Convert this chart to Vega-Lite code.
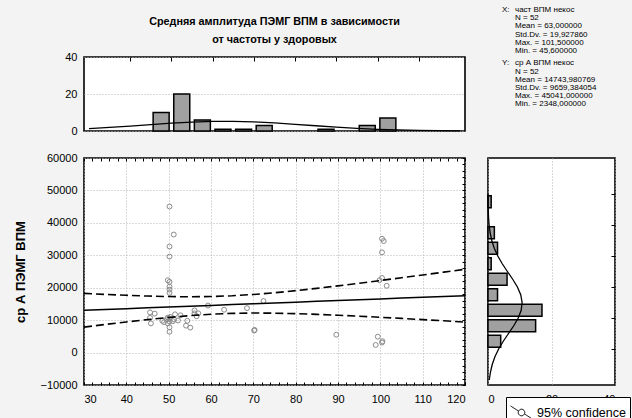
{
"$schema":"https://vega.github.io/schema/vega-lite/v6.json",
"autosize":{"type":"none"},
"padding":{"left":84,"top":57,"right":548,"bottom":361},
"background":"#f3f3f3",
"bounds":"flush",
"columns":2,
"spacing":{"row":27,"column":23},
"config":{
  "font":"Liberation Sans",
  "view":{"stroke":"black","strokeWidth":1.6,"fill":"white"},
  "axis":{"labelFont":"Liberation Sans","labelFontSize":11,"labelColor":"black","titleFont":"Liberation Sans","titleColor":"black","domain":false,"ticks":false,"grid":false,"gridColor":"#b5b5b5","gridDash":[1,2],"gridWidth":1,"tickColor":"black","tickWidth":1,"labelOverlap":false},
  "legend":{"labelFont":"Liberation Sans"}
},
"datasets":{
  "pts":[
    {"x":45.6,"y":12400},{"x":45.6,"y":10700},{"x":45.8,"y":9000},{"x":46.7,"y":12000},{"x":48.9,"y":9400},{"x":49.8,"y":10800},{"x":49.8,"y":9000},{"x":49.8,"y":22300},{"x":48.5,"y":9800},{"x":49.6,"y":10300},
    {"x":50.2,"y":45041},{"x":51.2,"y":36400},{"x":50.2,"y":32700},{"x":50.2,"y":29600},{"x":50.2,"y":21800},{"x":50.2,"y":20300},{"x":50.2,"y":19400},{"x":50.2,"y":18400},{"x":50.2,"y":7800},{"x":50.2,"y":6400},
    {"x":51.0,"y":9700},{"x":51.3,"y":10200},{"x":52.2,"y":9900},{"x":52.8,"y":11500},{"x":54.4,"y":9800},{"x":54.1,"y":8300},{"x":50.2,"y":10500},{"x":50.4,"y":11000},{"x":50.2,"y":9600},{"x":51.5,"y":11800},
    {"x":55.1,"y":7700},{"x":56.1,"y":13000},{"x":56.1,"y":12100},{"x":56.6,"y":11200},{"x":57.0,"y":12100},{"x":59.3,"y":14500},
    {"x":63.1,"y":13200},{"x":68.5,"y":13700},{"x":70.2,"y":6800},{"x":72.4,"y":15900},{"x":70.3,"y":7000},{"x":89.6,"y":5500},
    {"x":99.4,"y":4900},{"x":98.9,"y":2348},{"x":99.8,"y":22300},
    {"x":100.4,"y":3100},{"x":100.5,"y":3500},{"x":100.4,"y":35100},{"x":100.8,"y":34400},{"x":100.4,"y":30900},{"x":100.4,"y":23000},{"x":101.5,"y":20600}
  ],
  "band":[
    {"x":30,"fit":13050,"lo":7850,"hi":18250},{"x":35,"fit":13300,"lo":8662,"hi":17938},{"x":40,"fit":13550,"lo":9441,"hi":17659},{"x":45,"fit":13800,"lo":10171,"hi":17429},
    {"x":50,"fit":14050,"lo":10832,"hi":17268},{"x":55,"fit":14300,"lo":11393,"hi":17207},{"x":60,"fit":14550,"lo":11820,"hi":17280},{"x":65,"fit":14800,"lo":12087,"hi":17513},
    {"x":70,"fit":15050,"lo":12190,"hi":17910},{"x":75,"fit":15300,"lo":12154,"hi":18446},{"x":80,"fit":15550,"lo":12010,"hi":19090},{"x":85,"fit":15800,"lo":11792,"hi":19808},
    {"x":90,"fit":16050,"lo":11521,"hi":20579},{"x":95,"fit":16300,"lo":11215,"hi":21385},{"x":100,"fit":16550,"lo":10883,"hi":22217},{"x":105,"fit":16800,"lo":10533,"hi":23067},
    {"x":110,"fit":17050,"lo":10169,"hi":23931},{"x":115,"fit":17300,"lo":9795,"hi":24805},{"x":120,"fit":17550,"lo":9413,"hi":25687}
  ],
  "xh":[{"mid":47.5,"count":10},{"mid":52.5,"count":20},{"mid":57.5,"count":6},{"mid":62.5,"count":1},{"mid":67.5,"count":1},{"mid":72.5,"count":3},{"mid":87.5,"count":1},{"mid":97.5,"count":3},{"mid":102.5,"count":7}],
  "yh":[{"mid":2500,"count":4},{"mid":7500,"count":15},{"mid":12500,"count":17},{"mid":17500,"count":3},{"mid":22500,"count":6},{"mid":27500,"count":1},{"mid":32500,"count":3},{"mid":37500,"count":2},{"mid":47500,"count":1}],
  "xcurve":[{"mid":30,"count":1.32},{"mid":35,"count":1.94},{"mid":40,"count":2.67},{"mid":45,"count":3.46},{"mid":50,"count":4.21},{"mid":55,"count":4.8},{"mid":60,"count":5.15},{"mid":65,"count":5.18},{"mid":70,"count":4.89},{"mid":75,"count":4.34},{"mid":80,"count":3.62},{"mid":85,"count":2.83},{"mid":90,"count":2.08},{"mid":95,"count":1.43},{"mid":100,"count":0.93},{"mid":105,"count":0.57},{"mid":110,"count":0.32},{"mid":115,"count":0.17},{"mid":120,"count":0.09}],
  "ycurve":[{"mid":-10000,"count":0.4},{"mid":-7500,"count":0.76},{"mid":-5000,"count":1.33},{"mid":-2500,"count":2.18},{"mid":0,"count":3.35},{"mid":2500,"count":4.81},{"mid":5000,"count":6.46},{"mid":7500,"count":8.11},{"mid":10000,"count":9.52},{"mid":12500,"count":10.45},{"mid":15000,"count":10.74},{"mid":17500,"count":10.31},{"mid":20000,"count":9.26},{"mid":22500,"count":7.78},{"mid":25000,"count":6.11},{"mid":27500,"count":4.49},{"mid":30000,"count":3.09},{"mid":32500,"count":1.98},{"mid":35000,"count":1.19},{"mid":37500,"count":0.67},{"mid":40000,"count":0.35},{"mid":42500,"count":0.17},{"mid":45000,"count":0.08},{"mid":47500,"count":0.03},{"mid":50000,"count":0.01}],
  "stats":[
    {"line":0,"indent":0,"text":"X:"},{"line":0,"indent":1,"text":"част ВПМ некос"},{"line":1,"indent":1,"text":"N = 52"},{"line":2,"indent":1,"text":"Mean = 63,000000"},{"line":3,"indent":1,"text":"Std.Dv. = 19,927860"},{"line":4,"indent":1,"text":"Max. = 101,500000"},{"line":5,"indent":1,"text":"Min. = 45,600000"},
    {"line":6.5,"indent":0,"text":"Y:"},{"line":6.5,"indent":1,"text":"ср А ВПМ некос"},{"line":7.5,"indent":1,"text":"N = 52"},{"line":8.5,"indent":1,"text":"Mean = 14743,980769"},{"line":9.5,"indent":1,"text":"Std.Dv. = 9659,384054"},{"line":10.5,"indent":1,"text":"Max. = 45041,000000"},{"line":11.5,"indent":1,"text":"Min. = 2348,000000"}
  ]
},
"concat":[
  {
    "width":381,"height":74,
    "title":{"text":["Средняя амплитуда ПЭМГ ВПМ в зависимости","от частоты у здоровых"],"font":"Liberation Sans","fontSize":10.8,"fontWeight":"bold","color":"black","anchor":"middle","offset":6,"lineHeight":18},
    "encoding":{
      "x":{"field":"mid","type":"quantitative","scale":{"domain":[30,120],"nice":false,"zero":false},"axis":{"orient":"top","values":[40,50,60,70,80,90,100,110],"labels":false,"ticks":true,"tickSize":-4,"grid":false,"title":null}},
      "y":{"field":"count","type":"quantitative","scale":{"domain":[0,40],"nice":false,"zero":true},"axis":{"orient":"left","values":[0,20,40],"grid":true,"labelPadding":7,"title":null}}
    },
    "layer":[
      {"data":{"name":"xh"},"mark":{"type":"bar","width":16,"fill":"#a0a0a0","stroke":"black","strokeWidth":1.5}},
      {"data":{"name":"xcurve"},"mark":{"type":"line","color":"black","strokeWidth":1.3}}
    ]
  },
  {
    "width":127,"height":74,
    "view":{"stroke":null,"fill":null},
    "data":{"name":"stats"},
    "mark":{"type":"text","align":"left","baseline":"middle","font":"Liberation Sans","fontSize":8,"color":"black"},
    "encoding":{
      "x":{"field":"indent","type":"quantitative","scale":{"domain":[0,1],"range":[14,27]},"axis":null},
      "y":{"field":"line","type":"quantitative","scale":{"domain":[0,11.5],"range":[-47,47.3]},"axis":null},
      "text":{"field":"text"}
    }
  },
  {
    "width":381,"height":227,
    "layer":[
      {"data":{"name":"pts"},"mark":{"type":"point","shape":"circle","filled":false,"stroke":"#8a8a8a","strokeWidth":1,"size":24,"opacity":1},
       "encoding":{
         "x":{"field":"x","type":"quantitative","scale":{"domain":[30,120],"nice":false,"zero":false},
              "axis":{"orient":"bottom","values":[30,32,34,36,38,40,42,44,46,48,50,52,54,56,58,60,62,64,66,68,70,72,74,76,78,80,82,84,86,88,90,92,94,96,98,100,102,104,106,108,110,112,114,116,118,120],
                      "labelExpr":"datum.value % 10 === 0 ? datum.label : ''","grid":true,"gridOpacity":{"condition":{"test":"datum.value % 10 === 0","value":1},"value":0},
                      "ticks":true,"tickSize":-3,"labelPadding":11,"title":null}},
         "y":{"field":"y","type":"quantitative","scale":{"domain":[-10000,60000],"nice":false,"zero":false},
              "axis":{"orient":"left","values":[-10000,0,10000,20000,30000,40000,50000,60000],"format":"d","grid":true,"labelPadding":7,
                      "title":"ср А ПЭМГ ВПМ","titleFontSize":13,"titleFontWeight":"bold","titlePadding":12}}}},
      {"data":{"name":"band"},"mark":{"type":"line","color":"black","strokeWidth":1.5},
       "encoding":{
         "x":{"field":"x","type":"quantitative","axis":{"orient":"top","values":[30,32,34,36,38,40,42,44,46,48,50,52,54,56,58,60,62,64,66,68,70,72,74,76,78,80,82,84,86,88,90,92,94,96,98,100,102,104,106,108,110,112,114,116,118,120],"labels":false,"ticks":true,"tickSize":-3,"grid":false,"title":null}},
         "y":{"field":"fit","type":"quantitative","axis":{"orient":"right","values":[-10000,-8000,-6000,-4000,-2000,0,2000,4000,6000,8000,10000,12000,14000,16000,18000,20000,22000,24000,26000,28000,30000,32000,34000,36000,38000,40000,42000,44000,46000,48000,50000,52000,54000,56000,58000,60000],"labels":false,"ticks":true,"tickSize":-3,"grid":false,"title":null}}}},
      {"data":{"name":"band"},"mark":{"type":"line","strokeWidth":1.6,"strokeDash":[8,4]},
       "encoding":{
         "x":{"field":"x","type":"quantitative","axis":null},
         "y":{"field":"hi","type":"quantitative","axis":null},
         "color":{"datum":"95% confidence","type":"nominal","scale":{"range":["black"]},
                  "legend":{"title":null,"orient":"none","legendX":422,"legendY":340,"strokeColor":"black","fillColor":"white","padding":4,
                            "symbolType":"M-1,-0.6L-0.3,-0.15M0.3,0.15L1,0.6M0.3,0A0.3,0.3,0,1,1,-0.3,0A0.3,0.3,0,1,1,0.3,0",
                            "symbolSize":480,"symbolStrokeWidth":1,"symbolStrokeColor":"black","symbolFillColor":"white","symbolDash":[1,0],
                            "labelFontSize":12.5,"labelColor":"black","labelFont":"Liberation Sans"}}}},
      {"data":{"name":"band"},"mark":{"type":"line","color":"black","strokeWidth":1.6,"strokeDash":[8,4]},
       "encoding":{
         "x":{"field":"x","type":"quantitative","axis":null},
         "y":{"field":"lo","type":"quantitative","axis":null}}}
    ],
    "resolve":{"axis":{"x":"independent","y":"independent"}}
  },
  {
    "width":127,"height":227,
    "encoding":{
      "y":{"field":"mid","type":"quantitative","scale":{"domain":[-10000,60000],"nice":false,"zero":false},"axis":{"orient":"right","values":[0,10000,20000,30000,40000,50000],"labels":false,"ticks":true,"tickSize":-4,"grid":false,"title":null}},
      "x":{"field":"count","type":"quantitative","scale":{"domain":[0,40],"nice":false,"zero":true},"axis":{"orient":"bottom","values":[0,20,40],"grid":true,"labelPadding":8,"title":null}}
    },
    "layer":[
      {"data":{"name":"yh"},"mark":{"type":"bar","orient":"horizontal","height":12,"fill":"#a0a0a0","stroke":"black","strokeWidth":1.5}},
      {"data":{"name":"ycurve"},"mark":{"type":"line","color":"black","strokeWidth":1.3},"encoding":{"order":{"field":"mid"}}}
    ]
  }
]
}
